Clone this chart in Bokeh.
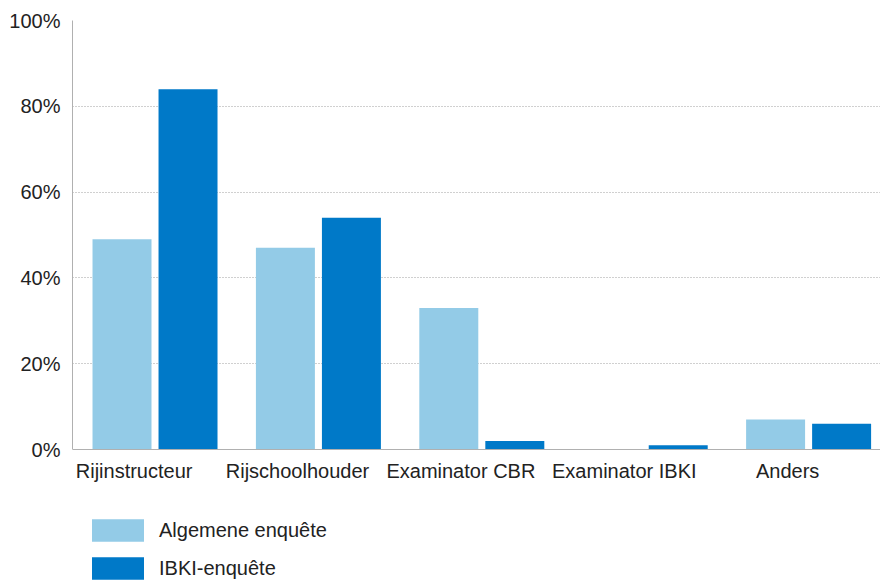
from bokeh.plotting import figure
from bokeh.models import Range1d, FixedTicker, Legend, LegendItem, ColumnDataSource
from bokeh.transform import dodge
from bokeh.embed import file_html
from bokeh.resources import INLINE
import numpy as np

categories = ["Rijinstructeur", "Rijschoolhouder", "Examinator CBR", "Examinator IBKI", "Anders"]
algemene = [49, 47, 33, 0, 7]
ibki = [84, 54, 2, 1, 6]
series_names = ["Algemene enquête", "IBKI-enquête"]
y_ticks = [0, 20, 40, 60, 80, 100]

LIGHT = "#93CBE7"
DARK = "#0079C8"
FONT = "Liberation Sans"
TEXT = "#222222"

pos = np.arange(len(categories)) + 0.5
src = ColumnDataSource(dict(x=pos, a=algemene, b=ibki))

p = figure(width=880, height=582, output_backend="svg", toolbar_location=None,
           x_range=Range1d(-0.005, 4.94), y_range=Range1d(-31, 100),
           min_border_left=72, min_border_right=0, min_border_top=20, min_border_bottom=0)
p.outline_line_color = None

ra = p.vbar(x=dodge("x", -0.202, range=p.x_range), top="a", width=0.361, source=src,
            fill_color=LIGHT, line_color=None)
rb = p.vbar(x=dodge("x", 0.202, range=p.x_range), top="b", width=0.361, source=src,
            fill_color=DARK, line_color=None)

# x axis (fixed at y = 0, labels below)
label_pos = [float(v - 0.128) for v in pos]
p.xaxis.fixed_location = 0
p.xaxis.ticker = FixedTicker(ticks=label_pos)
p.xaxis.major_label_overrides = {v: c for v, c in zip(label_pos, categories)}
p.xaxis.major_tick_line_color = None
p.xaxis.minor_tick_line_color = None
p.xaxis.axis_line_color = "#b0b0b0"
p.xaxis.major_label_standoff = 4
p.xaxis.major_label_text_font = FONT
p.xaxis.major_label_text_font_size = "20px"
p.xaxis.major_label_text_color = TEXT
p.xgrid.grid_line_color = None

# y axis
p.yaxis.bounds = (0, 100)
p.yaxis.ticker = FixedTicker(ticks=y_ticks)
p.yaxis.major_label_overrides = {t: f"{t}%" for t in y_ticks}
p.yaxis.major_tick_line_color = None
p.yaxis.minor_tick_line_color = None
p.yaxis.axis_line_color = "#b0b0b0"
p.yaxis.major_label_standoff = 6
p.yaxis.major_label_text_font = FONT
p.yaxis.major_label_text_font_size = "20px"
p.yaxis.major_label_text_color = TEXT
p.ygrid.ticker = FixedTicker(ticks=y_ticks[1:])
p.ygrid.grid_line_color = "#a0a0a0"
p.ygrid.grid_line_dash = "1 2"

legend = Legend(items=[LegendItem(label=series_names[0], renderers=[ra]),
                       LegendItem(label=series_names[1], renderers=[rb])],
                location=(13, 0), orientation="vertical",
                glyph_width=65, glyph_height=28, spacing=10, label_standoff=9,
                padding=0, margin=0, border_line_color=None, background_fill_alpha=0,
                label_text_font=FONT, label_text_font_size="20px", label_text_color=TEXT)
p.add_layout(legend, "center")

open("out.html", "w").write(file_html(p, INLINE))
